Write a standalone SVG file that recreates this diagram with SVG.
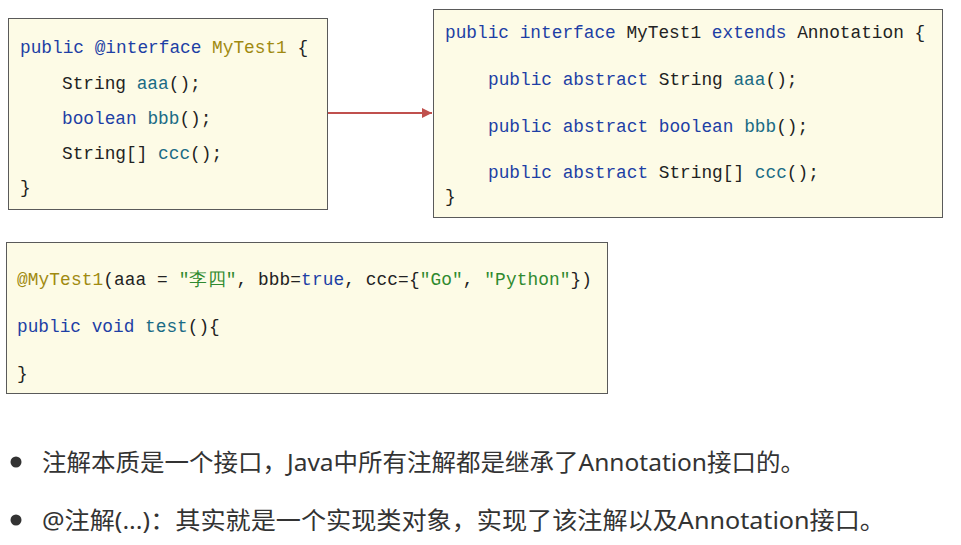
<svg xmlns="http://www.w3.org/2000/svg" width="961" height="545" viewBox="0 0 961 545">
<style>
.box{fill:#fdfbe6;stroke:#5a5a5a;stroke-width:1}
.code{font-family:"Liberation Mono","DejaVu Sans Mono",monospace;font-size:17.8px;fill:#222}
.kw{fill:#1d3fa5}
.an{fill:#a08a10}
.fn{fill:#1a6b85}
.st{fill:#2f8a2f}
.txt{font-family:"Noto Sans","Noto Sans CJK SC",sans-serif;font-size:24px;fill:#333}
</style>
<defs>
<marker id="ah" markerWidth="12" markerHeight="12" refX="10" refY="6" orient="auto" markerUnits="userSpaceOnUse">
<path d="M0,1 L10,6 L0,11 Z" fill="#c0504d"/>
</marker>
</defs>
<rect width="961" height="545" fill="#fff"/>
<g id="box1">
<rect class="box" x="8.5" y="18.5" width="319" height="191"/>
<text class="code" x="20" y="53"><tspan class="kw">public</tspan> <tspan class="kw">@interface</tspan> <tspan class="an">MyTest1</tspan> {</text>
<text class="code" x="62" y="89">String <tspan class="fn">aaa</tspan>();</text>
<text class="code" x="62" y="124"><tspan class="kw">boolean</tspan> <tspan class="fn">bbb</tspan>();</text>
<text class="code" x="62" y="159">String[] <tspan class="fn">ccc</tspan>();</text>
<text class="code" x="20" y="193">}</text>
</g>
<g id="box2">
<rect class="box" x="433.5" y="9.5" width="509" height="208"/>
<text class="code" x="445" y="38"><tspan class="kw">public</tspan> <tspan class="kw">interface</tspan> MyTest1 <tspan class="kw">extends</tspan> Annotation {</text>
<text class="code" x="488" y="85"><tspan class="kw">public</tspan> <tspan class="kw">abstract</tspan> String <tspan class="fn">aaa</tspan>();</text>
<text class="code" x="488" y="132"><tspan class="kw">public</tspan> <tspan class="kw">abstract</tspan> <tspan class="kw">boolean</tspan> <tspan class="fn">bbb</tspan>();</text>
<text class="code" x="488" y="178"><tspan class="kw">public</tspan> <tspan class="kw">abstract</tspan> String[] <tspan class="fn">ccc</tspan>();</text>
<text class="code" x="445" y="202">}</text>
</g>
<g id="box3">
<rect class="box" x="6.5" y="242.5" width="601" height="151"/>
<text class="code" x="17" y="285" textLength="575" lengthAdjust="spacing"><tspan class="an">@MyTest1</tspan>(aaa = <tspan class="st">"李四"</tspan>, bbb=<tspan class="kw">true</tspan>, ccc={<tspan class="st">"Go"</tspan>, <tspan class="st">"Python"</tspan>})</text>
<text class="code" x="17" y="332"><tspan class="kw">public</tspan> <tspan class="kw">void</tspan> <tspan class="fn">test</tspan>(){</text>
<text class="code" x="17" y="379">}</text>
</g>
<g id="connectors">
<line x1="328" y1="113" x2="432" y2="113" stroke="#c0504d" stroke-width="2" marker-end="url(#ah)"/>
</g>
<g id="notes">
<circle cx="16" cy="462" r="5.5" fill="#333"/>
<text class="txt" x="42" y="471" textLength="763" lengthAdjust="spacingAndGlyphs">注解本质是一个接口，Java中所有注解都是继承了Annotation接口的。</text>
<circle cx="16" cy="520" r="5.5" fill="#333"/>
<text class="txt" x="42" y="529" textLength="843" lengthAdjust="spacingAndGlyphs">@注解(...)：其实就是一个实现类对象，实现了该注解以及Annotation接口。</text>
</g>
</svg>
